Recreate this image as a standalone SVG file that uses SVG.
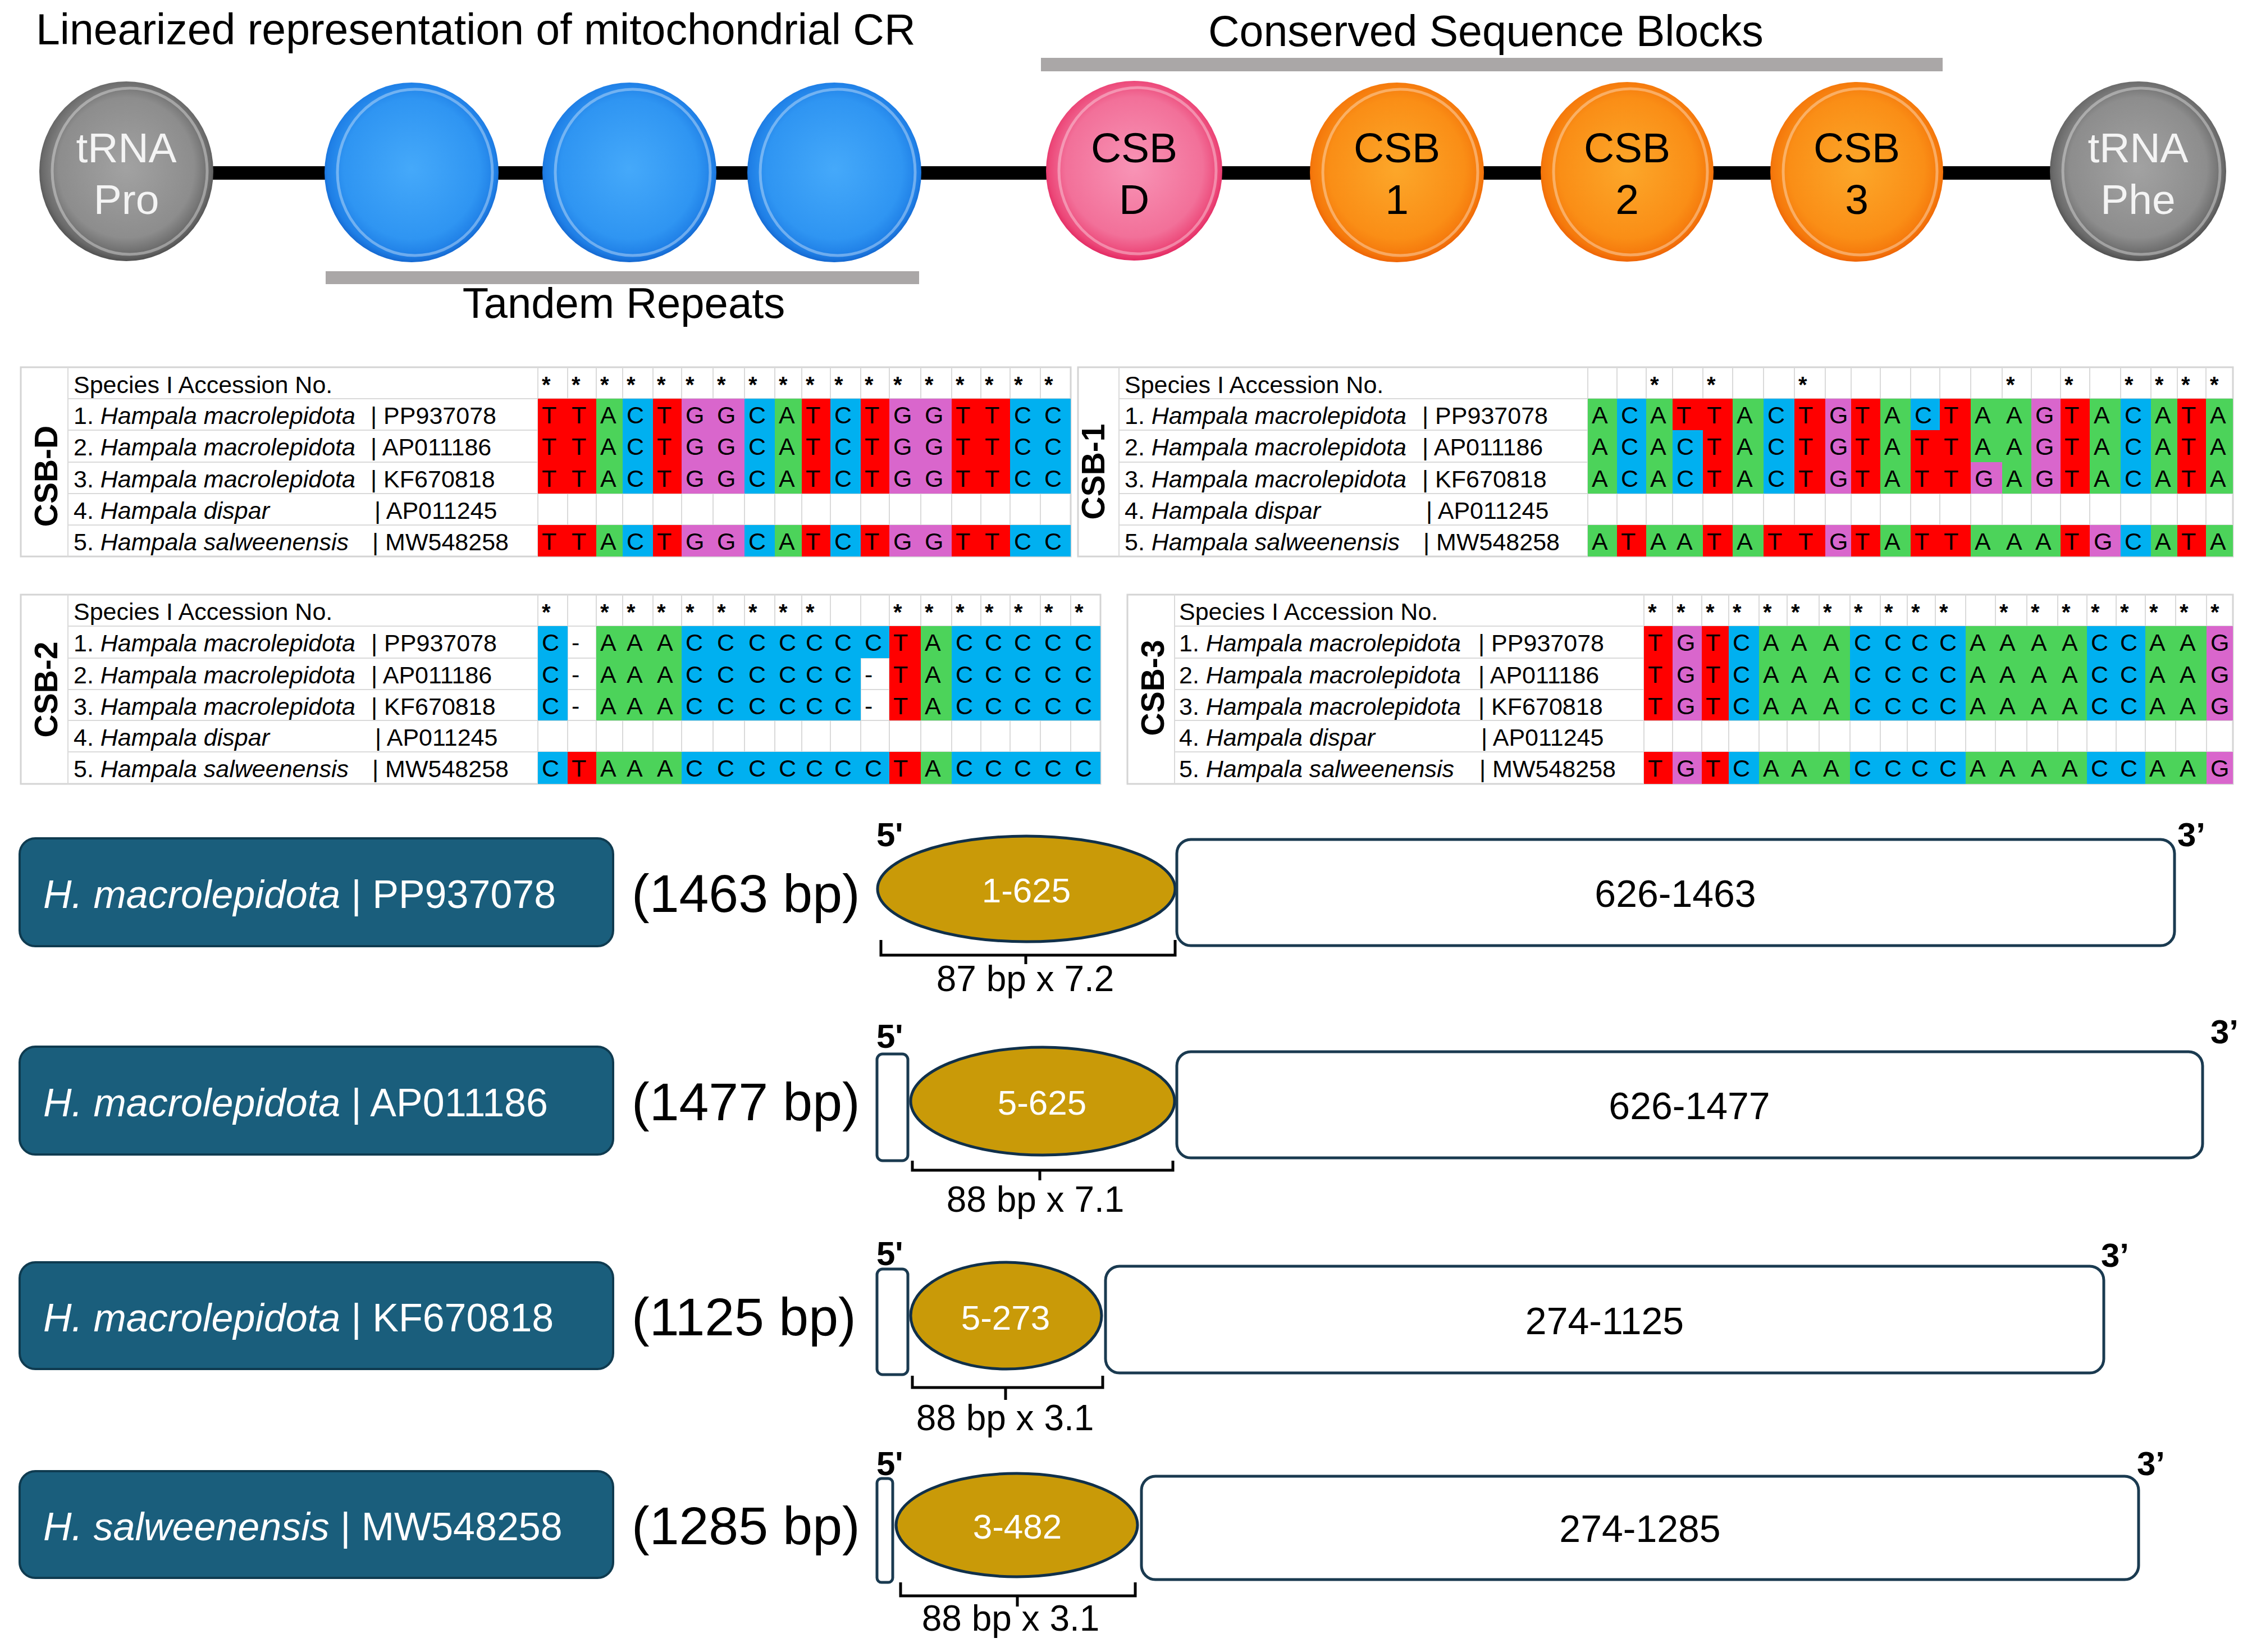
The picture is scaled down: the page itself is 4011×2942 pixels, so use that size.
<svg xmlns="http://www.w3.org/2000/svg" width="4011" height="2942" viewBox="0 0 4011 2942">
<defs>
<radialGradient id="gGray" cx="50%" cy="48%" r="52%">
<stop offset="0" stop-color="#a2a2a2"/><stop offset="0.75" stop-color="#8d8d8d"/><stop offset="0.93" stop-color="#6a6a6a"/><stop offset="1" stop-color="#505050"/>
</radialGradient>
<radialGradient id="gBlue" cx="50%" cy="48%" r="52%">
<stop offset="0" stop-color="#45a9fa"/><stop offset="0.75" stop-color="#2f95f2"/><stop offset="0.93" stop-color="#1f7fe6"/><stop offset="1" stop-color="#1568d0"/>
</radialGradient>
<radialGradient id="gPink" cx="50%" cy="48%" r="52%">
<stop offset="0" stop-color="#f894b6"/><stop offset="0.75" stop-color="#f27099"/><stop offset="0.93" stop-color="#ec4778"/><stop offset="1" stop-color="#e32a63"/>
</radialGradient>
<radialGradient id="gOrange" cx="50%" cy="48%" r="52%">
<stop offset="0" stop-color="#fca72a"/><stop offset="0.75" stop-color="#fa8e16"/><stop offset="0.93" stop-color="#f5790c"/><stop offset="1" stop-color="#ee6406"/>
</radialGradient>
</defs>
<style>
text{font-family:"Liberation Sans",Arial,sans-serif;fill:#000}
.title{font-size:77px}
.nd{font-size:75px;text-anchor:middle}
.wt{fill:#f4f4f4}
.rim{fill:none;stroke:#ffffff;stroke-opacity:0.35;stroke-width:5}
.conn{stroke:#000;stroke-width:24}
.bar{fill:#aaa7a7}
.tb{fill:#fff;stroke:#d4d4d4;stroke-width:3}
.grid{fill:none;stroke:#dadada;stroke-width:2}
.sp{font-size:43px}
.it{font-style:italic}
.seq{font-size:43px}
.ast{font-size:40px;font-weight:bold}
.lbl{font-size:57px;font-weight:bold;text-anchor:middle}
.A{fill:#4cd35a}.C{fill:#00b0f0}.G{fill:#d966cc}.T{fill:#ff0000}
.cells rect{shape-rendering:crispEdges}
.box{fill:#1a5e7c;stroke:#0f3b50;stroke-width:4}
.boxt{font-size:70px;fill:#fff}
.bp{font-size:95px}
.prime{font-size:60px;font-weight:bold}
.ell{fill:#c99a08;stroke:#10304a;stroke-width:5}
.ellt{font-size:62px;fill:#fff;text-anchor:middle}
.seg{fill:#fff;stroke:#1a3a50;stroke-width:5}
.segt{font-size:68px;text-anchor:middle}
.brk{fill:none;stroke:#000;stroke-width:5}
.brkt{font-size:64px;text-anchor:middle}
</style>
<rect width="4011" height="2942" fill="#fff"/>

<!-- Top: linearized CR -->
<text class="title" x="64" y="79">Linearized representation of mitochondrial CR</text>
<text class="title" x="2152" y="82">Conserved Sequence Blocks</text>
<rect class="bar" x="1854" y="103" width="1606" height="24"/>
<rect class="bar" x="580" y="483" width="1057" height="23"/>
<text class="title" x="1111" y="566" text-anchor="middle" style="font-size:76px">Tandem Repeats</text>

<g id="connectors">
<line class="conn" x1="225" y1="308" x2="733" y2="308"/>
<line class="conn" x1="733" y1="308" x2="1121" y2="308"/>
<line class="conn" x1="1121" y1="308" x2="1486" y2="308"/>
<line class="conn" x1="1486" y1="308" x2="2020" y2="308"/>
<line class="conn" x1="2020" y1="308" x2="2488" y2="308"/>
<line class="conn" x1="2488" y1="308" x2="2898" y2="308"/>
<line class="conn" x1="2898" y1="308" x2="3307" y2="308"/>
<line class="conn" x1="3307" y1="308" x2="3808" y2="308"/>
</g>

<g id="node-trna-pro">
<ellipse cx="225" cy="305" rx="155" ry="160" fill="url(#gGray)"/>
<ellipse class="rim" cx="231" cy="305" rx="138" ry="148"/>
<text class="nd wt" x="225" y="289">tRNA</text>
<text class="nd wt" x="225" y="381">Pro</text>
</g>
<g id="node-tandem-1">
<ellipse cx="733" cy="307" rx="155" ry="160" fill="url(#gBlue)"/>
<ellipse class="rim" cx="739" cy="307" rx="138" ry="148"/>
</g>
<g id="node-tandem-2">
<ellipse cx="1121" cy="307" rx="155" ry="160" fill="url(#gBlue)"/>
<ellipse class="rim" cx="1127" cy="307" rx="138" ry="148"/>
</g>
<g id="node-tandem-3">
<ellipse cx="1486" cy="307" rx="155" ry="160" fill="url(#gBlue)"/>
<ellipse class="rim" cx="1492" cy="307" rx="138" ry="148"/>
</g>
<g id="node-csb-d">
<ellipse cx="2020" cy="304" rx="157" ry="160" fill="url(#gPink)"/>
<ellipse class="rim" cx="2026" cy="304" rx="140" ry="148"/>
<text class="nd" x="2020" y="289">CSB</text>
<text class="nd" x="2020" y="381">D</text>
</g>
<g id="node-csb-1">
<ellipse cx="2488" cy="307" rx="155" ry="160" fill="url(#gOrange)"/>
<ellipse class="rim" cx="2494" cy="307" rx="138" ry="148"/>
<text class="nd" x="2488" y="289">CSB</text>
<text class="nd" x="2488" y="381">1</text>
</g>
<g id="node-csb-2">
<ellipse cx="2898" cy="306" rx="154" ry="160" fill="url(#gOrange)"/>
<ellipse class="rim" cx="2904" cy="306" rx="137" ry="148"/>
<text class="nd" x="2898" y="289">CSB</text>
<text class="nd" x="2898" y="381">2</text>
</g>
<g id="node-csb-3">
<ellipse cx="3307" cy="306" rx="154" ry="160" fill="url(#gOrange)"/>
<ellipse class="rim" cx="3313" cy="306" rx="137" ry="148"/>
<text class="nd" x="3307" y="289">CSB</text>
<text class="nd" x="3307" y="381">3</text>
</g>
<g id="node-trna-phe">
<ellipse cx="3808" cy="305" rx="157" ry="160" fill="url(#gGray)"/>
<ellipse class="rim" cx="3814" cy="305" rx="140" ry="148"/>
<text class="nd wt" x="3808" y="289">tRNA</text>
<text class="nd wt" x="3808" y="381">Phe</text>
</g>

<!-- CSB-D table -->
<g id="table-csb-d">
<rect class="tb" x="37" y="654" width="1870" height="337"/>
<path class="grid" d="M121 654V991M958 654V991M1011 654V991M1062 654V991M1109 654V991M1163 654V991M1214 654V991M1270 654V991M1326 654V991M1380 654V991M1428 654V991M1479 654V991M1533 654V991M1584 654V991M1640 654V991M1695 654V991M1747 654V991M1799 654V991M1853 654V991M121 710H1907M121 766H1907M121 823H1907M121 879H1907M121 935H1907"/>
<g class="cells">
<rect class="T" x="958" y="710" width="104" height="169"/><rect class="A" x="1062" y="710" width="47" height="169"/><rect class="C" x="1109" y="710" width="54" height="169"/><rect class="T" x="1163" y="710" width="51" height="169"/><rect class="G" x="1214" y="710" width="112" height="169"/><rect class="C" x="1326" y="710" width="54" height="169"/><rect class="A" x="1380" y="710" width="48" height="169"/><rect class="T" x="1428" y="710" width="51" height="169"/><rect class="C" x="1479" y="710" width="54" height="169"/><rect class="T" x="1533" y="710" width="51" height="169"/><rect class="G" x="1584" y="710" width="111" height="169"/><rect class="T" x="1695" y="710" width="104" height="169"/><rect class="C" x="1799" y="710" width="108" height="169"/>
<rect class="T" x="958" y="935" width="104" height="56"/><rect class="A" x="1062" y="935" width="47" height="56"/><rect class="C" x="1109" y="935" width="54" height="56"/><rect class="T" x="1163" y="935" width="51" height="56"/><rect class="G" x="1214" y="935" width="112" height="56"/><rect class="C" x="1326" y="935" width="54" height="56"/><rect class="A" x="1380" y="935" width="48" height="56"/><rect class="T" x="1428" y="935" width="51" height="56"/><rect class="C" x="1479" y="935" width="54" height="56"/><rect class="T" x="1533" y="935" width="51" height="56"/><rect class="G" x="1584" y="935" width="111" height="56"/><rect class="T" x="1695" y="935" width="104" height="56"/><rect class="C" x="1799" y="935" width="108" height="56"/>
</g>
<text class="lbl" transform="translate(102 848) rotate(-90)">CSB-D</text>
<text class="sp" x="131" y="700">Species I Accession No.</text>
<text class="sp" x="131" y="755">1. <tspan class="it">Hampala macrolepidota</tspan></text>
<text class="sp" x="131" y="811">2. <tspan class="it">Hampala macrolepidota</tspan></text>
<text class="sp" x="131" y="868">3. <tspan class="it">Hampala macrolepidota</tspan></text>
<text class="sp" x="131" y="924">4. <tspan class="it">Hampala dispar</tspan></text>
<text class="sp" x="131" y="980">5. <tspan class="it">Hampala salweenensis</tspan></text>
<text class="sp" x="660" y="755">| PP937078</text>
<text class="sp" x="660" y="811">| AP011186</text>
<text class="sp" x="660" y="868">| KF670818</text>
<text class="sp" x="667" y="924">| AP011245</text>
<text class="sp" x="663" y="980">| MW548258</text>
<text class="ast" x="965 1018 1069 1116 1170 1221 1277 1333 1387 1435 1486 1540 1591 1647 1702 1754 1806 1860" y="699">******************</text>
<text class="seq" x="965 1018 1069 1116 1170 1221 1277 1333 1387 1435 1486 1540 1591 1647 1702 1754 1806 1860" y="754">TTACTGGCATCTGGTTCC</text>
<text class="seq" x="965 1018 1069 1116 1170 1221 1277 1333 1387 1435 1486 1540 1591 1647 1702 1754 1806 1860" y="810">TTACTGGCATCTGGTTCC</text>
<text class="seq" x="965 1018 1069 1116 1170 1221 1277 1333 1387 1435 1486 1540 1591 1647 1702 1754 1806 1860" y="867">TTACTGGCATCTGGTTCC</text>
<text class="seq" x="965 1018 1069 1116 1170 1221 1277 1333 1387 1435 1486 1540 1591 1647 1702 1754 1806 1860" y="979">TTACTGGCATCTGGTTCC</text>
</g>

<!-- CSB-1 table -->
<g id="table-csb-1">
<rect class="tb" x="1920" y="654" width="2057" height="337"/>
<path class="grid" d="M1993 654V991M2828 654V991M2880 654V991M2932 654V991M2979 654V991M3033 654V991M3086 654V991M3141 654V991M3196 654V991M3251 654V991M3297 654V991M3349 654V991M3403 654V991M3455 654V991M3510 654V991M3566 654V991M3618 654V991M3670 654V991M3722 654V991M3777 654V991M3831 654V991M3878 654V991M3929 654V991M1993 710H3977M1993 766H3977M1993 823H3977M1993 879H3977M1993 935H3977"/>
<g class="cells">
<rect class="A" x="2828" y="710" width="52" height="169"/><rect class="C" x="2880" y="710" width="52" height="169"/><rect class="A" x="2932" y="710" width="47" height="169"/><rect class="C" x="2979" y="710" width="54" height="169"/><rect class="T" x="3033" y="710" width="53" height="169"/><rect class="A" x="3086" y="710" width="55" height="169"/><rect class="C" x="3141" y="710" width="55" height="169"/><rect class="T" x="3196" y="710" width="55" height="169"/><rect class="G" x="3251" y="710" width="46" height="169"/><rect class="T" x="3297" y="710" width="52" height="169"/><rect class="A" x="3349" y="710" width="54" height="169"/><rect class="T" x="3403" y="710" width="107" height="169"/><rect class="A" x="3510" y="710" width="108" height="169"/><rect class="G" x="3618" y="710" width="52" height="169"/><rect class="T" x="3670" y="710" width="52" height="169"/><rect class="A" x="3722" y="710" width="55" height="169"/><rect class="C" x="3777" y="710" width="54" height="169"/><rect class="A" x="3831" y="710" width="47" height="169"/><rect class="T" x="3878" y="710" width="51" height="169"/><rect class="A" x="3929" y="710" width="48" height="169"/>
<rect class="T" x="2979" y="710" width="54" height="56"/><rect class="C" x="3403" y="710" width="52" height="56"/><rect class="G" x="3510" y="823" width="56" height="56"/>
<rect class="A" x="2828" y="935" width="52" height="56"/><rect class="T" x="2880" y="935" width="52" height="56"/><rect class="A" x="2932" y="935" width="101" height="56"/><rect class="T" x="3033" y="935" width="53" height="56"/><rect class="A" x="3086" y="935" width="55" height="56"/><rect class="T" x="3141" y="935" width="110" height="56"/><rect class="G" x="3251" y="935" width="46" height="56"/><rect class="T" x="3297" y="935" width="52" height="56"/><rect class="A" x="3349" y="935" width="54" height="56"/><rect class="T" x="3403" y="935" width="107" height="56"/><rect class="A" x="3510" y="935" width="160" height="56"/><rect class="T" x="3670" y="935" width="52" height="56"/><rect class="G" x="3722" y="935" width="55" height="56"/><rect class="C" x="3777" y="935" width="54" height="56"/><rect class="A" x="3831" y="935" width="47" height="56"/><rect class="T" x="3878" y="935" width="51" height="56"/><rect class="A" x="3929" y="935" width="48" height="56"/>
</g>
<text class="lbl" transform="translate(1967 840) rotate(-90)">CSB-1</text>
<text class="sp" x="2003" y="700">Species I Accession No.</text>
<text class="sp" x="2003" y="755">1. <tspan class="it">Hampala macrolepidota</tspan></text>
<text class="sp" x="2003" y="811">2. <tspan class="it">Hampala macrolepidota</tspan></text>
<text class="sp" x="2003" y="868">3. <tspan class="it">Hampala macrolepidota</tspan></text>
<text class="sp" x="2003" y="924">4. <tspan class="it">Hampala dispar</tspan></text>
<text class="sp" x="2003" y="980">5. <tspan class="it">Hampala salweenensis</tspan></text>
<text class="sp" x="2533" y="755">| PP937078</text>
<text class="sp" x="2533" y="811">| AP011186</text>
<text class="sp" x="2533" y="868">| KF670818</text>
<text class="sp" x="2540" y="924">| AP011245</text>
<text class="sp" x="2535" y="980">| MW548258</text>
<text class="ast" x="2939 3040 3203 3573 3677 3784 3838 3885 3936" y="699">*********</text>
<text class="seq" x="2835 2887 2939 2986 3040 3093 3148 3203 3258 3304 3356 3410 3462 3517 3573 3625 3677 3729 3784 3838 3885 3936" y="754">ACATTACTGTACTAAGTACATA</text>
<text class="seq" x="2835 2887 2939 2986 3040 3093 3148 3203 3258 3304 3356 3410 3462 3517 3573 3625 3677 3729 3784 3838 3885 3936" y="810">ACACTACTGTATTAAGTACATA</text>
<text class="seq" x="2835 2887 2939 2986 3040 3093 3148 3203 3258 3304 3356 3410 3462 3517 3573 3625 3677 3729 3784 3838 3885 3936" y="867">ACACTACTGTATTGAGTACATA</text>
<text class="seq" x="2835 2887 2939 2986 3040 3093 3148 3203 3258 3304 3356 3410 3462 3517 3573 3625 3677 3729 3784 3838 3885 3936" y="979">ATAATATTGTATTAAATGCATA</text>
</g>

<!-- CSB-2 table -->
<g id="table-csb-2">
<rect class="tb" x="37" y="1059" width="1923" height="337"/>
<path class="grid" d="M121 1059V1396M958 1059V1396M1011 1059V1396M1062 1059V1396M1109 1059V1396M1163 1059V1396M1214 1059V1396M1270 1059V1396M1326 1059V1396M1380 1059V1396M1428 1059V1396M1479 1059V1396M1533 1059V1396M1584 1059V1396M1640 1059V1396M1695 1059V1396M1747 1059V1396M1799 1059V1396M1853 1059V1396M1907 1059V1396M121 1115H1960M121 1172H1960M121 1228H1960M121 1283H1960M121 1339H1960"/>
<g class="cells">
<rect class="C" x="958" y="1115" width="53" height="168"/><rect class="A" x="1062" y="1115" width="152" height="168"/><rect class="C" x="1214" y="1115" width="319" height="168"/><rect class="C" x="1533" y="1115" width="51" height="57"/><rect class="T" x="1584" y="1115" width="56" height="168"/><rect class="A" x="1640" y="1115" width="55" height="168"/><rect class="C" x="1695" y="1115" width="265" height="168"/>
<rect class="C" x="958" y="1339" width="53" height="57"/><rect class="T" x="1011" y="1339" width="51" height="57"/><rect class="A" x="1062" y="1339" width="152" height="57"/><rect class="C" x="1214" y="1339" width="370" height="57"/><rect class="T" x="1584" y="1339" width="56" height="57"/><rect class="A" x="1640" y="1339" width="55" height="57"/><rect class="C" x="1695" y="1339" width="265" height="57"/>
</g>
<text class="lbl" transform="translate(102 1228) rotate(-90)">CSB-2</text>
<text class="sp" x="131" y="1104">Species I Accession No.</text>
<text class="sp" x="131" y="1160">1. <tspan class="it">Hampala macrolepidota</tspan></text>
<text class="sp" x="131" y="1217">2. <tspan class="it">Hampala macrolepidota</tspan></text>
<text class="sp" x="131" y="1273">3. <tspan class="it">Hampala macrolepidota</tspan></text>
<text class="sp" x="131" y="1328">4. <tspan class="it">Hampala dispar</tspan></text>
<text class="sp" x="131" y="1384">5. <tspan class="it">Hampala salweenensis</tspan></text>
<text class="sp" x="661" y="1160">| PP937078</text>
<text class="sp" x="661" y="1217">| AP011186</text>
<text class="sp" x="661" y="1273">| KF670818</text>
<text class="sp" x="668" y="1328">| AP011245</text>
<text class="sp" x="663" y="1384">| MW548258</text>
<text class="ast" x="965 1069 1116 1170 1221 1277 1333 1387 1435 1591 1647 1702 1754 1806 1860 1914" y="1104">****************</text>
<text class="seq" x="965 1018 1069 1116 1170 1221 1277 1333 1387 1435 1486 1540 1591 1647 1702 1754 1806 1860 1914" y="1159">C-AAACCCCCCCTACCCCC</text>
<text class="seq" x="965 1018 1069 1116 1170 1221 1277 1333 1387 1435 1486 1540 1591 1647 1702 1754 1806 1860 1914" y="1216">C-AAACCCCCC-TACCCCC</text>
<text class="seq" x="965 1018 1069 1116 1170 1221 1277 1333 1387 1435 1486 1540 1591 1647 1702 1754 1806 1860 1914" y="1272">C-AAACCCCCC-TACCCCC</text>
<text class="seq" x="965 1018 1069 1116 1170 1221 1277 1333 1387 1435 1486 1540 1591 1647 1702 1754 1806 1860 1914" y="1383">CTAAACCCCCCCTACCCCC</text>
</g>

<!-- CSB-3 table -->
<g id="table-csb-3">
<rect class="tb" x="2008" y="1059" width="1969" height="337"/>
<path class="grid" d="M2092 1059V1396M2928 1059V1396M2979 1059V1396M3031 1059V1396M3079 1059V1396M3133 1059V1396M3183 1059V1396M3240 1059V1396M3295 1059V1396M3349 1059V1396M3397 1059V1396M3447 1059V1396M3501 1059V1396M3554 1059V1396M3610 1059V1396M3665 1059V1396M3717 1059V1396M3769 1059V1396M3821 1059V1396M3875 1059V1396M3930 1059V1396M2092 1115H3977M2092 1172H3977M2092 1228H3977M2092 1283H3977M2092 1339H3977"/>
<g class="cells">
<rect class="T" x="2928" y="1115" width="51" height="168"/><rect class="G" x="2979" y="1115" width="52" height="168"/><rect class="T" x="3031" y="1115" width="48" height="168"/><rect class="C" x="3079" y="1115" width="54" height="168"/><rect class="A" x="3133" y="1115" width="162" height="168"/><rect class="C" x="3295" y="1115" width="206" height="168"/><rect class="A" x="3501" y="1115" width="216" height="168"/><rect class="C" x="3717" y="1115" width="104" height="168"/><rect class="A" x="3821" y="1115" width="109" height="168"/><rect class="G" x="3930" y="1115" width="47" height="168"/>
<rect class="T" x="2928" y="1339" width="51" height="57"/><rect class="G" x="2979" y="1339" width="52" height="57"/><rect class="T" x="3031" y="1339" width="48" height="57"/><rect class="C" x="3079" y="1339" width="54" height="57"/><rect class="A" x="3133" y="1339" width="162" height="57"/><rect class="C" x="3295" y="1339" width="206" height="57"/><rect class="A" x="3501" y="1339" width="216" height="57"/><rect class="C" x="3717" y="1339" width="104" height="57"/><rect class="A" x="3821" y="1339" width="109" height="57"/><rect class="G" x="3930" y="1339" width="47" height="57"/>
</g>
<text class="lbl" transform="translate(2073 1225) rotate(-90)">CSB-3</text>
<text class="sp" x="2100" y="1104">Species I Accession No.</text>
<text class="sp" x="2100" y="1160">1. <tspan class="it">Hampala macrolepidota</tspan></text>
<text class="sp" x="2100" y="1217">2. <tspan class="it">Hampala macrolepidota</tspan></text>
<text class="sp" x="2100" y="1273">3. <tspan class="it">Hampala macrolepidota</tspan></text>
<text class="sp" x="2100" y="1328">4. <tspan class="it">Hampala dispar</tspan></text>
<text class="sp" x="2100" y="1384">5. <tspan class="it">Hampala salweenensis</tspan></text>
<text class="sp" x="2633" y="1160">| PP937078</text>
<text class="sp" x="2633" y="1217">| AP011186</text>
<text class="sp" x="2633" y="1273">| KF670818</text>
<text class="sp" x="2638" y="1328">| AP011245</text>
<text class="sp" x="2635" y="1384">| MW548258</text>
<text class="ast" x="2935 2986 3038 3086 3140 3190 3247 3302 3356 3404 3454 3561 3617 3672 3724 3776 3828 3882 3937" y="1104">*******************</text>
<text class="seq" x="2935 2986 3038 3086 3140 3190 3247 3302 3356 3404 3454 3508 3561 3617 3672 3724 3776 3828 3882 3937" y="1159">TGTCAAACCCCAAAACCAAG</text>
<text class="seq" x="2935 2986 3038 3086 3140 3190 3247 3302 3356 3404 3454 3508 3561 3617 3672 3724 3776 3828 3882 3937" y="1216">TGTCAAACCCCAAAACCAAG</text>
<text class="seq" x="2935 2986 3038 3086 3140 3190 3247 3302 3356 3404 3454 3508 3561 3617 3672 3724 3776 3828 3882 3937" y="1272">TGTCAAACCCCAAAACCAAG</text>
<text class="seq" x="2935 2986 3038 3086 3140 3190 3247 3302 3356 3404 3454 3508 3561 3617 3672 3724 3776 3828 3882 3937" y="1383">TGTCAAACCCCAAAACCAAG</text>
</g>

<!-- Bottom: CR structures -->
<g id="row-pp937078">
<rect class="box" x="35" y="1493" width="1057" height="192" rx="28"/>
<text class="boxt" x="77" y="1617"><tspan class="it">H. macrolepidota</tspan> | PP937078</text>
<text class="bp" x="1125" y="1624">(1463 bp)</text>
<text class="prime" x="1561" y="1507">5'</text>
<ellipse class="ell" cx="1828" cy="1583" rx="265" ry="94"/>
<text class="ellt" x="1828" y="1607">1-625</text>
<rect class="seg" x="2096" y="1495" width="1777" height="189" rx="25"/>
<text class="segt" x="2984" y="1615">626-1463</text>
<text class="prime" x="3878" y="1507">3’</text>
<path class="brk" d="M1569 1674V1701H2093V1674M1827 1701V1717"/>
<text class="brkt" x="1826" y="1765">87 bp x 7.2</text>
</g>
<g id="row-ap011186">
<rect class="box" x="35" y="1864" width="1057" height="192" rx="28"/>
<text class="boxt" x="77" y="1988"><tspan class="it">H. macrolepidota</tspan> | AP011186</text>
<text class="bp" x="1125" y="1995">(1477 bp)</text>
<text class="prime" x="1561" y="1866">5'</text>
<rect class="seg" x="1562" y="1877" width="55" height="190" rx="10"/>
<ellipse class="ell" cx="1857" cy="1961" rx="235" ry="96"/>
<text class="ellt" x="1856" y="1985">5-625</text>
<rect class="seg" x="2096" y="1873" width="1827" height="189" rx="25"/>
<text class="segt" x="3009" y="1993">626-1477</text>
<text class="prime" x="3937" y="1858">3’</text>
<path class="brk" d="M1625 2067V2084H2089V2067M1852 2084V2102"/>
<text class="brkt" x="1844" y="2158">88 bp x 7.1</text>
</g>
<g id="row-kf670818">
<rect class="box" x="35" y="2248" width="1057" height="190" rx="28"/>
<text class="boxt" x="77" y="2371"><tspan class="it">H. macrolepidota</tspan> | KF670818</text>
<text class="bp" x="1125" y="2378">(1125 bp)</text>
<text class="prime" x="1561" y="2253">5'</text>
<rect class="seg" x="1562" y="2260" width="55" height="188" rx="10"/>
<ellipse class="ell" cx="1792" cy="2343" rx="170" ry="95"/>
<text class="ellt" x="1791" y="2368">5-273</text>
<rect class="seg" x="1969" y="2255" width="1778" height="190" rx="25"/>
<text class="segt" x="2858" y="2376">274-1125</text>
<text class="prime" x="3742" y="2256">3’</text>
<path class="brk" d="M1625 2450V2471H1964V2450M1791 2471V2493"/>
<text class="brkt" x="1790" y="2547">88 bp x 3.1</text>
</g>
<g id="row-mw548258">
<rect class="box" x="35" y="2620" width="1057" height="190" rx="28"/>
<text class="boxt" x="77" y="2743"><tspan class="it">H. salweenensis</tspan> | MW548258</text>
<text class="bp" x="1125" y="2750">(1285 bp)</text>
<text class="prime" x="1561" y="2627">5'</text>
<rect class="seg" x="1562" y="2633" width="28" height="185" rx="8"/>
<ellipse class="ell" cx="1811" cy="2716" rx="215" ry="92"/>
<text class="ellt" x="1812" y="2740">3-482</text>
<rect class="seg" x="2033" y="2629" width="1776" height="184" rx="25"/>
<text class="segt" x="2921" y="2746">274-1285</text>
<text class="prime" x="3806" y="2627">3’</text>
<path class="brk" d="M1604 2818V2842H2022V2818M1812 2842V2861"/>
<text class="brkt" x="1800" y="2904">88 bp x 3.1</text>
</g>
</svg>
